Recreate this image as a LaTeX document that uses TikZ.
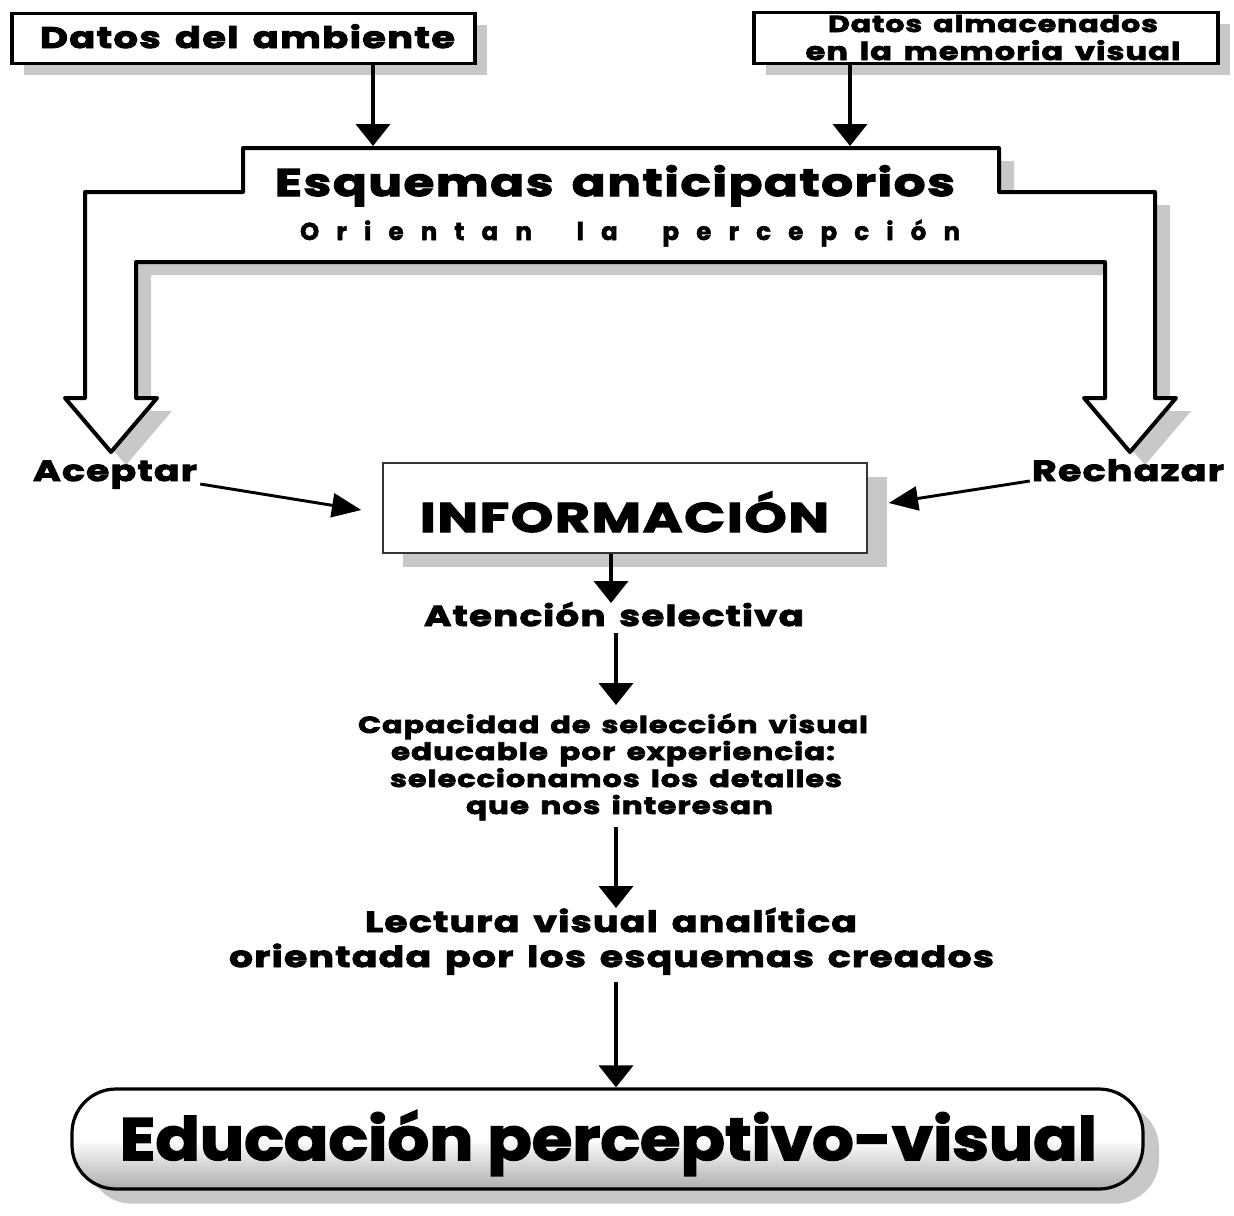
\documentclass[tikz,border=0pt]{standalone}
\usepackage{fontspec}
\usepackage{graphicx}
\setmainfont{Poppins}
\newfontfamily\wfont{Poppins}[FakeStretch=1.3,LetterSpace=4,WordSpace=1.5,FakeBold=3]
\newfontfamily\cfont{Poppins}[FakeStretch=1.1,FakeBold=2.5]
\newfontfamily\sfont{Poppins}[LetterSpace=70,WordSpace=2,FakeBold=2]
\usetikzlibrary{arrows.meta,shadows,calc}
\definecolor{shd}{RGB}{200,200,200}
\newlength\px \setlength\px{0.75pt}
\newcommand\wt[2]{\resizebox{#1\px}{!}{\wfont\bfseries #2}}
\newcommand\ct[2]{\resizebox{#1\px}{!}{\cfont\bfseries #2}}
\newcommand\st[2]{\resizebox{#1\px}{!}{\sfont\bfseries #2}}
\begin{document}
\begin{tikzpicture}[x=0.75pt,y=-0.75pt,
  txt/.style={inner sep=0pt, anchor=base},
  topbox/.style={draw=black, line width=2.6pt, fill=white, inner sep=0pt,
    drop shadow={shadow xshift=9pt, shadow yshift=-8.5pt, fill=shd, opacity=1}},
  infobox/.style={draw=black!80, line width=1.1pt, fill=white, inner sep=0pt,
    drop shadow={shadow xshift=15pt, shadow yshift=-10.5pt, fill=shd, opacity=1}},
  endbox/.style={draw=black, line width=2.4pt, rounded corners=33pt, inner sep=0pt,
    top color=white, bottom color=black!32, middle color=white,
    drop shadow={shadow xshift=12pt, shadow yshift=-11pt, fill=shd, opacity=1}},
  arr/.style={line width=3pt, -{Triangle[length=16.5pt,width=25.5pt]}},
  sidearr/.style={line width=2.2pt, -{Triangle[length=22pt,width=18pt]}},
  framestyle/.style={draw=black, line width=3pt, line join=round, fill=white}
]
\fill[white] (0,0) rectangle (1234,1215);
\useasboundingbox (0,0) rectangle (1234,1215);

% top boxes
\node[topbox, minimum width=347.25pt, minimum height=37.5pt] (b1) at (243.5,38.5) {};
\node[txt] (t1) at (247.5,48) {\wt{415}{Datos del ambiente}};
\node[topbox, minimum width=348pt, minimum height=38.25pt] (b2) at (986,38) {};
\node[txt] (t2a) at (993,32) {\wt{330}{Datos almacenados}};
\node[txt] (t2b) at (993,60) {\wt{375}{en la memoria visual}};

% frame (shadow + shape)
\fill[shd, shift={(15,13)}] (65,398) -- (85,398) -- (85,192) -- (243,192) -- (243,148)
  -- (999,148) -- (999,192) -- (1155,192) -- (1155,398) -- (1176,398) -- (1130,452)
  -- (1084,398) -- (1105,398) -- (1105,262) -- (136,262) -- (136,398) -- (157,398)
  -- (111,452) -- cycle;
\path[framestyle] (65,398) -- (85,398) -- (85,192) -- (243,192) -- (243,148)
  -- (999,148) -- (999,192) -- (1155,192) -- (1155,398) -- (1176,398) -- (1130,452)
  -- (1084,398) -- (1105,398) -- (1105,262) -- (136,262) -- (136,398) -- (157,398)
  -- (111,452) -- cycle;
\node[txt] (esq) at (615,196) {\wt{680}{Esquemas anticipatorios}};
\node[txt] (ori) at (630,240) {\st{660}{Orientan la percepción}};

\coordinate (fA) at (373,146);
\coordinate (fB) at (850,146);
\draw[arr] (b1.south -| fA) -- (fA);
\draw[arr] (b2.south -| fB) -- (fB);

% side labels
\node[txt] (acep) at (115,481) {\wt{164}{Aceptar}};
\node[txt] (rech) at (1128,481) {\wt{192}{Rechazar}};

% information box
\node[infobox, minimum width=363pt, minimum height=67.5pt] (info) at (625,508) {};
\node[txt] (infot) at (624.5,532) {\wt{409}{INFORMACIÓN}};

\draw[sidearr] ($(acep.base east)+(3,3)$) -- ($(info.west)+(-21,2)$);
\draw[sidearr] ($(rech.base west)+(-2,0)$) -- ($(info.east)+(21,-5)$);

% chain
\node[txt] (att) at (614,626) {\wt{380}{Atención selectiva}};
\coordinate (a1) at (611,603);
\draw[arr] (info.south -| a1) -- (a1);

\node[txt] (c1) at (613,733) {\wt{510}{Capacidad de selección visual}};
\node[txt] (c2) at (613,760) {\wt{444}{educable por experiencia:}};
\node[txt] (c3) at (616,787) {\wt{452}{seleccionamos los detalles}};
\node[txt] (c4) at (619.5,814) {\wt{307}{que nos interesan}};
\coordinate (a2) at (616,705);
\draw[arr, shorten <=5pt] (att.south -| a2) -- (a2);

\node[txt] (l1) at (611,932) {\wt{492}{Lectura visual analítica}};
\node[txt] (l2) at (611.5,967) {\wt{765}{orientada por los esquemas creados}};
\coordinate (a3) at (616,908);
\draw[arr, shorten <=5pt] (c4.south -| a3) -- (a3);

\node[endbox, minimum width=803.25pt, minimum height=75pt] (edu) at (607.5,1139) {};
\node[txt] (edut) at (608.5,1160) {\ct{977}{Educación perceptivo-visual}};
\draw[arr, shorten <=5pt] (l2.south -| a3) -- (edu.north -| a3);
\end{tikzpicture}
\end{document}
